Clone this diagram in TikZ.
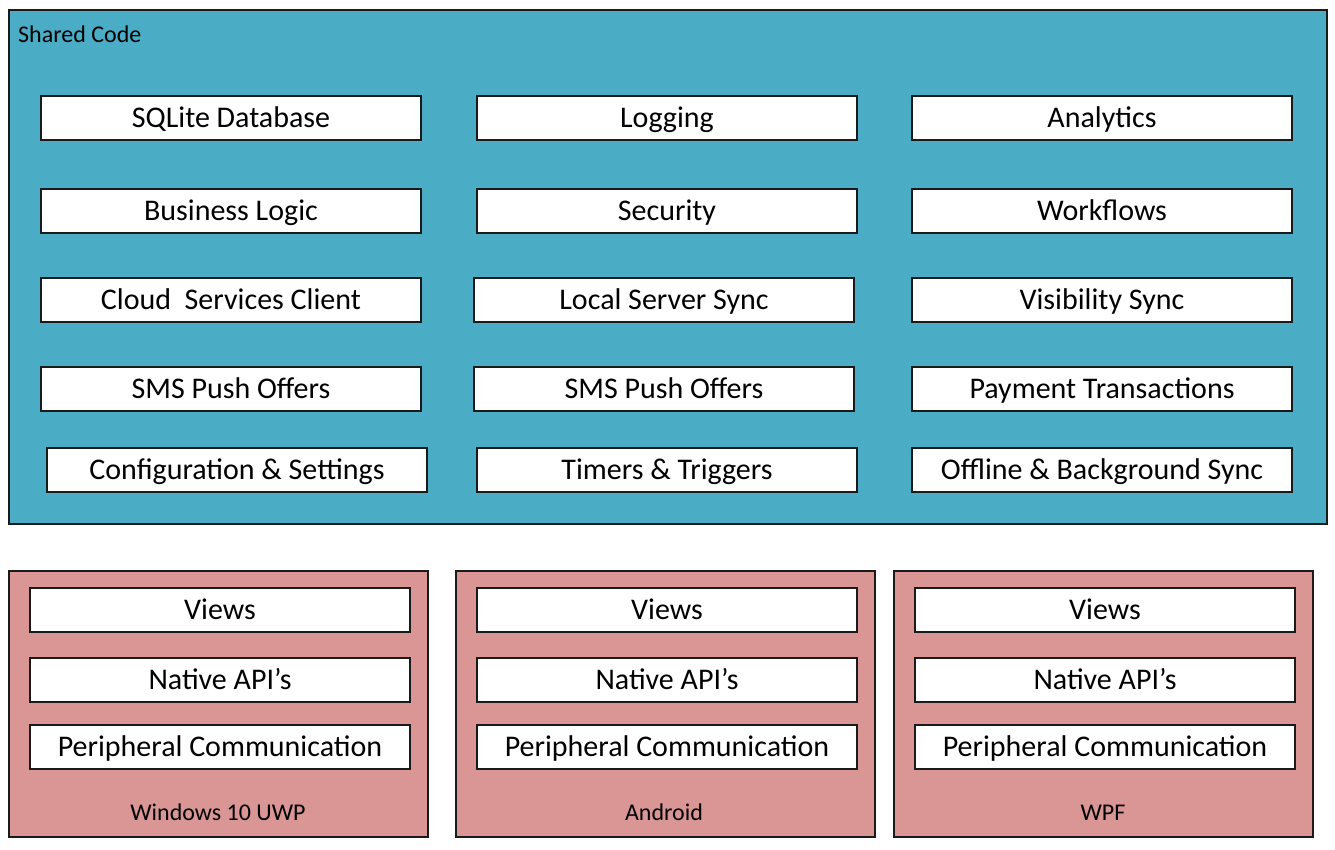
\documentclass[tikz,border=0pt]{standalone}
\usepackage{fontspec}
\setmainfont{Carlito}
\definecolor{teal}{HTML}{4BACC6}
\definecolor{pinkbg}{HTML}{D99694}
\definecolor{edge}{HTML}{1A1A1A}
\begin{document}
\begin{tikzpicture}[x=1pt,y=-1pt,
  container/.style={draw=edge,line width=1.6pt,inner sep=0pt,anchor=north west},
  item/.style={draw=edge,fill=white,line width=1.6pt,minimum width=380pt,minimum height=44pt,inner sep=0pt,text height=19.3pt,text depth=0pt,font=\fontsize{30}{34}\selectfont},
  lbl/.style={font=\fontsize{24}{28}\selectfont,inner sep=0pt,text height=15.5pt,text depth=0pt}]
\useasboundingbox (0,0) rectangle (1335,850);
% shared code container
\node[container,fill=teal,minimum width=1318pt,minimum height=514pt] (shared) at (8,9) {};
\node[lbl,anchor=west] (sharedlbl) at (18,34.5) {Shared Code};
% row 1
\node[item] (sqlite) at (231,118) {SQLite Database};
\node[item] (logging) at (667,118) {Logging};
\node[item] (analytics) at (1102,118) {Analytics};
% row 2
\node[item] (business) at (231,211) {Business Logic};
\node[item] (security) at (667,211) {Security};
\node[item] (workflows) at (1102,211) {Workflows};
% row 3
\node[item] (cloud) at (231,300) {Cloud\ \ Services Client};
\node[item] (localsync) at (664,300) {Local Server Sync};
\node[item] (visibility) at (1102,300) {Visibility Sync};
% row 4
\node[item] (sms1) at (231,389) {SMS Push Offers};
\node[item] (sms2) at (664,389) {SMS Push Offers};
\node[item] (payment) at (1102,389) {Payment Transactions};
% row 5
\node[item] (config) at (237,470) {Configuration \& Settings};
\node[item] (timers) at (667,470) {Timers \& Triggers};
\node[item] (offline) at (1102,470) {Offline \& Background Sync};
% platform containers
\node[container,fill=pinkbg,minimum width=419pt,minimum height=266pt] (uwp) at (8,570) {};
\node[container,fill=pinkbg,minimum width=419pt,minimum height=266pt] (android) at (455,570) {};
\node[container,fill=pinkbg,minimum width=419pt,minimum height=266pt] (wpf) at (893,570) {};
% UWP
\node[item] (uwpviews) at (220,610) {Views};
\node[item] (uwpapi) at (220,680) {Native API’s};
\node[item] (uwpperi) at (220,747) {Peripheral Communication};
\node[lbl] (uwplbl) at (218,812.5) {Windows 10 UWP};
% Android
\node[item] (andviews) at (667,610) {Views};
\node[item] (andapi) at (667,680) {Native API’s};
\node[item] (andperi) at (667,747) {Peripheral Communication};
\node[lbl] (andlbl) at (664,812.5) {Android};
% WPF
\node[item] (wpfviews) at (1105,610) {Views};
\node[item] (wpfapi) at (1105,680) {Native API’s};
\node[item] (wpfperi) at (1105,747) {Peripheral Communication};
\node[lbl] (wpflbl) at (1103,812.5) {WPF};
\end{tikzpicture}
\end{document}
